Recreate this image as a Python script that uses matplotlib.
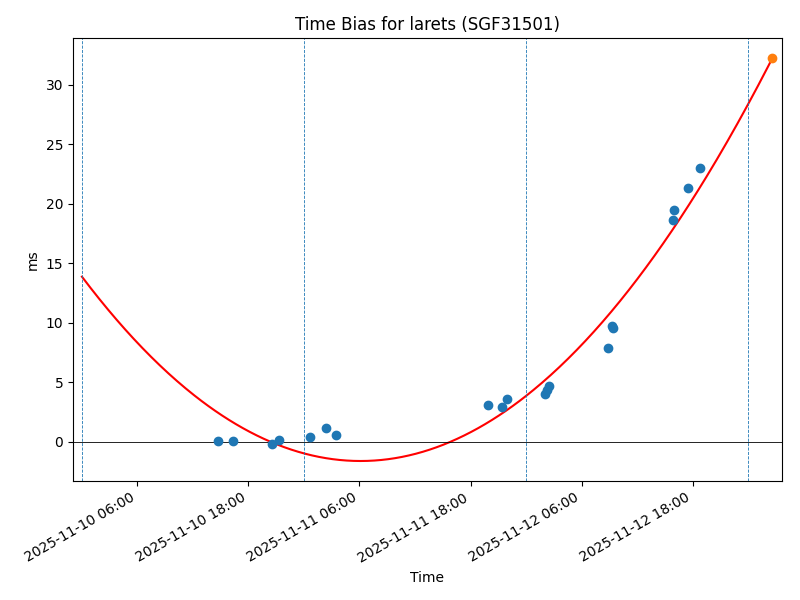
import matplotlib
matplotlib.use("Agg")
import matplotlib.pyplot as plt
import matplotlib.dates as mdates
import numpy as np
import pandas as pd

# Observed time-bias measurements
obs_times = [
    "2025-11-10 14:42", "2025-11-10 16:19", "2025-11-10 20:32", "2025-11-10 21:18",
    "2025-11-11 00:39", "2025-11-11 02:23", "2025-11-11 03:27",
    "2025-11-11 19:53", "2025-11-11 21:24", "2025-11-11 21:57",
    "2025-11-12 02:03", "2025-11-12 02:16", "2025-11-12 02:29",
    "2025-11-12 08:52", "2025-11-12 09:15", "2025-11-12 09:24",
    "2025-11-12 15:53", "2025-11-12 16:00", "2025-11-12 17:31", "2025-11-12 18:49",
]
obs_values = [
    0.08, 0.08, -0.17, 0.17,
    0.42, 1.18, 0.59,
    3.11, 2.94, 3.61,
    4.03, 4.41, 4.71,
    7.90, 9.75, 9.54,
    18.66, 19.50, 21.34, 23.03,
]

# Predicted point
pred_time = "2025-11-13 02:36"
pred_value = 32.27

# Quadratic fit coefficients (t in days since epoch_start): a*t^2 + b*t + c
epoch_start = "2025-11-10 00:00"
fit_coeffs = [9.84, -24.69, 13.89]

# Midnight markers
day_lines = ["2025-11-10", "2025-11-11", "2025-11-12", "2025-11-13"]

x_limits = ["2025-11-09 23:02", "2025-11-13 03:40"]
y_limits = [-3.28, 33.95]

t_obs = pd.to_datetime(obs_times)
t_pred = pd.to_datetime(pred_time)
t0 = pd.to_datetime(epoch_start)

fig, ax = plt.subplots(figsize=(8, 6), dpi=100)

# fit curve
tt = pd.date_range(t0, t_pred, periods=400)
days = (tt - t0) / pd.Timedelta(days=1)
yy = np.polyval(fit_coeffs, np.asarray(days))
ax.plot(tt, yy, color="red", linewidth=1.5)

ax.scatter(t_obs, obs_values, color="C0", s=36, zorder=3)
ax.scatter([t_pred], [pred_value], color="C1", s=36, zorder=3)

ax.axhline(0, color="black", linewidth=0.6)
for d in day_lines:
    ax.axvline(pd.to_datetime(d), color="C0", linestyle="--", linewidth=0.6)

ax.set_xlim(pd.to_datetime(x_limits[0]), pd.to_datetime(x_limits[1]))
ax.set_ylim(*y_limits)

ax.xaxis.set_major_locator(mdates.HourLocator(byhour=[6, 18]))
ax.xaxis.set_major_formatter(mdates.DateFormatter("%Y-%m-%d %H:%M"))
for lbl in ax.get_xticklabels():
    lbl.set_rotation(30)
    lbl.set_ha("right")

ax.set_title("Time Bias for larets (SGF31501)")
ax.set_xlabel("Time")
ax.set_ylabel("ms")

fig.subplots_adjust(left=0.09125, right=0.9775, top=0.9367, bottom=0.1983)
fig.savefig("out.png", dpi=100)
